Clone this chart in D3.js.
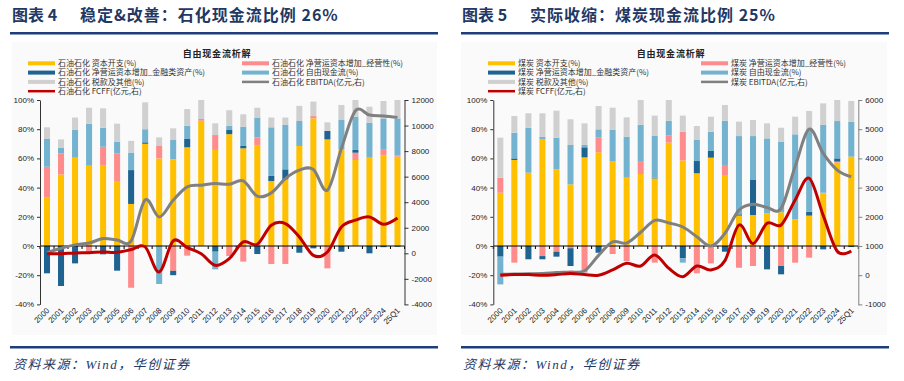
<!DOCTYPE html>
<html><head><meta charset="utf-8">
<script src="https://cdn.jsdelivr.net/npm/d3@7"></script>
<style>body{margin:0;background:#fff;} svg{display:block}</style>
</head><body><svg id="c" width="904" height="381"></svg>
<script>
const years = ["2000","2001","2002","2003","2004","2005","2006","2007","2008","2009","2010","2011","2012","2013","2014","2015","2016","2017","2018","2019","2020","2021","2022","2023","2024","25Q1"];
const pctTicks = [100,80,60,40,20,0,-20,-40];
const shRightTicks = [12000,10000,8000,6000,4000,2000,0,-2000,-4000];
const coalRightTicks = [6000,5000,4000,3000,2000,1000,0,-1000];

// 石油石化
const shCapex = [33.1,49,60.5,55,55.5,44.5,28.8,70,60,59.4,67.6,85.8,65.8,76.6,66.9,69.2,44.5,45.7,68.5,87.4,73,66.4,58.9,60.5,61.9,61.2];
const shWcOp  = [21.2,14.5,0,-5.5,12.5,19,-28.6,0,8.5,-17,-6.6,1.2,10.2,-6.9,-10.7,5.2,-12.3,-12.3,0,1.6,-15.3,0,5,0,4.5,0.7];
const shWcFin = [-18.7,-27.4,-11.9,0,-5.7,-16.9,23.2,1,0,-3,5.7,0,-3.9,3.2,1.6,-5.5,3.5,6.8,-4.6,-1.6,5.8,-3.9,1.9,-5,-0.8,-0.5];
const shFcf   = [19,3.9,19,28.8,13,8,12,9,-26,13.2,9.1,0,-12.1,2.5,13.2,13.6,33.3,30.4,17.1,0,0,19.9,22.8,24,21,25.5];
const shTax   = [8,5.6,8.5,10.9,13.3,12.3,8,18.4,5.9,8,11.4,13,8,10.7,8.5,6.7,6.7,5.1,10.4,9.9,5.9,10.3,11.4,10.9,11.9,12.6];
const shEbitda= [50,400,660,800,1150,1040,980,4180,2850,4150,5200,5330,5460,5410,5670,4470,4730,5850,6510,6560,4940,8210,11160,10820,10750,10640];
const shFcff  = [-30,-30,30,50,100,80,290,500,-1460,970,450,-30,-940,-420,890,700,2200,2330,1280,-160,100,2060,2590,2850,2270,2770];

// 煤炭
const coalCapex = [36.5,58.9,50.2,73.3,52.5,42.2,60.7,64.2,57.8,46.8,49.3,46.3,70.8,58.6,49.8,60.5,48.6,20.8,21.2,22.4,23.1,18.3,20.8,36.1,57.1,61.2];
const coalWcOp  = [10.3,-11.4,0,-6.9,-3.9,-1.5,-18.3,10,-5.5,-10.3,8.9,-11.4,4.8,19.7,-18.7,-11.9,6.9,-14.9,-13.7,0,-13.7,-11.4,-8,0.4,0.7,0];
const coalWcFin = [-7.3,1.1,-9.1,-2.2,-3.4,-12.2,6.9,-4.6,0,0,0,0.5,0,-8.5,8.4,4.6,-3.9,0.9,24,-16,-5.7,0,2.7,-2.3,2.2,-0.7];
const coalFcf   = [-19,17.6,30.8,1.6,21.7,27,1.6,5.7,21.7,28.1,24.9,28.8,10.2,-2.9,14.4,13.2,30.3,53.6,30.1,51.3,48.4,58.2,56.4,46.4,25.6,24];
const coalTax   = [27.4,11.4,9.9,16,18.5,17.6,14.8,16,15.2,13.2,16.9,13.7,14.2,11,9.6,10.3,10.8,9.9,11,10.3,9.5,12.1,12.6,14.8,14.4,14.1];
const coalEbitda= [30,40,50,57,90,110,150,680,1140,1100,1470,1880,1790,1650,1320,1000,1435,2230,2430,2320,2290,3720,5000,4170,3600,3370];
const coalFcff  = [0,20,20,0,20,57,20,0,180,406,315,690,236,-50,315,180,500,1720,1080,1780,1720,2575,3320,2050,820,830];

const colors = {capex:"#FFC000", wcOp:"#FF8C8C", wcFin:"#1F6391", fcf:"#74B3D0", tax:"#D0D0D0"};
const ebitdaColor = "#808080", fcffColor = "#C00000";
const navy = "#1f3864";
const svg = d3.select("#c");
const keys = ["capex","wcOp","wcFin","fcf","tax"];

function panel(o){
  const g = svg.append("g");
  g.append("rect").attr("x",o.bx).attr("y",42).attr("width",o.bw).attr("height",293).attr("fill","#fafafa");
  // title
  g.append("text").attr("x",o.tx).attr("y",21).attr("font-family","'Noto Sans CJK SC'").attr("font-weight",700)
    .attr("font-size",16).attr("fill",navy).text(o.titleA);
  g.append("text").attr("x",o.tx+68).attr("y",21).attr("font-family","'Noto Sans CJK SC'").attr("font-weight",700)
    .attr("font-size",16).attr("letter-spacing",1).attr("fill",navy).text(o.titleB);
  g.append("rect").attr("x",o.rx).attr("y",32).attr("width",o.rw).attr("height",2.5).attr("fill","#1f3d7a");
  g.append("rect").attr("x",o.rx).attr("y",346).attr("width",o.rw).attr("height",2.5).attr("fill","#1f3d7a");
  g.append("text").attr("x",o.tx+1).attr("y",369).attr("font-family","'Liberation Serif','Noto Sans CJK SC'")
    .attr("font-style","italic").attr("font-size",13).attr("letter-spacing",1.5).attr("fill",navy).text("资料来源：Wind，华创证券");

  // legend
  g.append("text").attr("x",o.lcx).attr("y",56.5).attr("text-anchor","middle").attr("font-family","'Noto Sans CJK SC'")
    .attr("font-weight",700).attr("font-size",9).attr("letter-spacing",0.8).attr("fill","#222").text("自由现金流析解");
  const items = [
    {k:"capex",t:"资本开支(%)",c:0,r:0,type:"bar"},
    {k:"wcOp",t:"净营运资本增加_经营性(%)",c:1,r:0,type:"bar"},
    {k:"wcFin",t:"净营运资本增加_金融类资产(%)",c:0,r:1,type:"bar"},
    {k:"fcf",t:"自由现金流(%)",c:1,r:1,type:"bar"},
    {k:"tax",t:"税款及其他(%)",c:0,r:2,type:"bar"},
    {k:"ebitda",t:"EBITDA(亿元,右)",c:1,r:2,type:"line",color:ebitdaColor},
    {k:"fcff",t:"FCFF(亿元,右)",c:0,r:3,type:"line",color:fcffColor}
  ];
  items.forEach(it=>{
    const sx = it.c===0 ? o.l1 : o.l2;
    const cy = 63.3 + it.r*9.3;
    if(it.type==="bar"){
      g.append("rect").attr("x",sx).attr("y",cy-2).attr("width",27).attr("height",4).attr("fill",colors[it.k]);
    } else {
      g.append("line").attr("x1",sx).attr("x2",sx+27).attr("y1",cy).attr("y2",cy).attr("stroke",it.color).attr("stroke-width",2.5);
    }
    g.append("text").attr("x",sx+30).attr("y",cy+2.8).attr("font-family","'Noto Sans CJK SC'").attr("font-size",8)
      .attr("fill","#333").text(o.prefix+" "+it.t);
  });

  const x = d3.scaleBand().domain(years).range([o.left,o.right]).paddingInner(0.57).paddingOuter(0.285);
  const y = d3.scaleLinear().domain([-40,100]).range([304.4,100]);
  const yR = d3.scaleLinear().domain(o.rDomain).range([304.4,100]);
  const table = years.map((yr,i)=>({year:yr, capex:o.capex[i], wcOp:o.wcOp[i], wcFin:o.wcFin[i], fcf:o.fcf[i], tax:o.tax[i]}));
  const series = d3.stack().keys(keys).offset(d3.stackOffsetDiverging)(table);
  g.append("g").selectAll("g").data(series).join("g").attr("fill",s=>colors[s.key])
    .selectAll("rect").data(s=>s).join("rect")
    .attr("x",d=>x(d.data.year)).attr("width",x.bandwidth())
    .attr("y",d=>y(Math.max(d[0],d[1]))).attr("height",d=>Math.abs(y(d[0])-y(d[1])));

  // zero line and category ticks
  const step = x.step();
  g.append("line").attr("x1",o.left).attr("x2",o.right).attr("y1",y(0)).attr("y2",y(0)).attr("stroke","#000").attr("stroke-width",1);
  g.append("g").selectAll("line").data(d3.range(years.length+1)).join("line")
    .attr("x1",i=>o.left+i*step).attr("x2",i=>o.left+i*step).attr("y1",y(0)).attr("y2",y(0)+3)
    .attr("stroke","#000").attr("stroke-width",1);

  // lines
  const cx = d=>x(d.year)+x.bandwidth()/2;
  const lineData = years.map((yr,i)=>({year:yr, e:o.ebitda[i], f:o.fcff[i]}));
  const lE = d3.line().x(cx).y(d=>yR(d.e)).curve(d3.curveCardinal.tension(0));
  const lF = d3.line().x(cx).y(d=>yR(d.f)).curve(d3.curveCardinal.tension(0));
  g.append("path").datum(lineData).attr("d",lE).attr("fill","none").attr("stroke",ebitdaColor).attr("stroke-width",3);
  g.append("path").datum(lineData).attr("d",lF).attr("fill","none").attr("stroke",fcffColor).attr("stroke-width",3);

  // axes
  const ax = g.append("g").attr("transform",`translate(${o.left},0)`)
    .call(d3.axisLeft(y).tickValues(pctTicks).tickFormat(d=>d+"%").tickSize(3).tickSizeOuter(0));
  const axR = g.append("g").attr("transform",`translate(${o.right},0)`)
    .call(d3.axisRight(yR).tickValues(o.rTicks).tickFormat(d=>String(d)).tickSize(4).tickSizeOuter(0));
  [ax,axR].forEach(a=>{
    a.selectAll("text").attr("font-family","'Liberation Sans',Arial").attr("font-size",8).attr("fill","#222");
  });
  ax.select(".domain").attr("stroke","#333");
  ax.selectAll(".tick line").attr("stroke","#333");
  axR.select(".domain").attr("stroke",o.rAxisColor);
  axR.selectAll(".tick line").attr("stroke",o.rAxisColor);
  axR.selectAll("text").attr("x",7);

  // x labels
  g.append("g").selectAll("text").data(years).join("text")
    .attr("transform",d=>`translate(${x(d)+x.bandwidth()/2+3},${311}) rotate(-45)`)
    .attr("text-anchor","end").attr("font-family","'Liberation Sans',Arial").attr("font-size",8).attr("fill","#222")
    .text(d=>d);
}

panel({bx:12,bw:425,tx:12,rx:10,rw:428,titleA:"图表 4",titleB:"稳定&改善：石化现金流比例 26%",
  lcx:217,l1:28,l2:242,prefix:"石油石化",left:40,right:404.5,rDomain:[-4000,12000],rTicks:shRightTicks,rAxisColor:"#333",
  capex:shCapex,wcOp:shWcOp,wcFin:shWcFin,fcf:shFcf,tax:shTax,ebitda:shEbitda,fcff:shFcff});
panel({bx:461,bw:426,tx:462,rx:461,rw:428,titleA:"图表 5",titleB:"实际收缩：煤炭现金流比例 25%",
  lcx:671,l1:488,l2:701,prefix:"煤炭",left:493.3,right:858.3,rDomain:[-1000,6000],rTicks:coalRightTicks,rAxisColor:"#808080",
  capex:coalCapex,wcOp:coalWcOp,wcFin:coalWcFin,fcf:coalFcf,tax:coalTax,ebitda:coalEbitda,fcff:coalFcff});
</script></body></html>
